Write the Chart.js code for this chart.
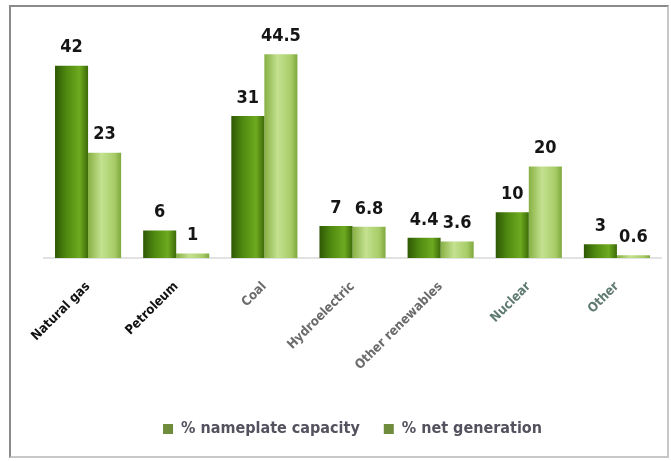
<!DOCTYPE html>
<html>
<head>
<meta charset="utf-8">
<script src="https://cdn.jsdelivr.net/npm/chart.js@4.4.1/dist/chart.umd.min.js"></script>
<style>
  html, body { margin: 0; padding: 0; background: #fff; }
  #wrap { position: relative; width: 671px; height: 461px; }
  #frame { position: absolute; left: 9px; top: 5px; width: 656px; height: 449px;
           border: 2px solid #8a8a8a; border-right-color: #c8c8c8; border-bottom-color: #c8c8c8; pointer-events: none; }
</style>
</head>
<body>
<div id="wrap">
  <canvas id="chart" width="671" height="461"></canvas>
  <div id="frame"></div>
</div>
<script>
// Share of US electricity by source
const categories = ["Natural gas", "Petroleum", "Coal", "Hydroelectric", "Other renewables", "Nuclear", "Other"];
const nameplateCapacity = [42, 6, 31, 7, 4.4, 10, 3];
const netGeneration = [23, 1, 44.5, 6.8, 3.6, 20, 0.6];
const seriesNames = ["% nameplate capacity", "% net generation"];

const tickColors = ["#111111", "#111111", "#6b6b6b", "#6b6b6b", "#6b6b6b", "#5f7a72", "#5f7a72"];
const FONT = "'Liberation Sans Narrow', 'DejaVu Sans Condensed', 'Liberation Sans', sans-serif";

const CAT_PCT = 0.75;

// Cylinder-like shading across each bar's width
const shades = [
  [[0, "#2f5805"], [0.35, "#4f8a10"], [0.75, "#6eaa20"], [1, "#3c6a08"]],
  [[0, "#86b042"], [0.4, "#c4e190"], [0.8, "#a8cd68"], [1, "#7fa83e"]]
];
function barFill(ctx) {
  const chart = ctx.chart;
  const xs = chart.scales.x;
  if (!xs || ctx.type !== "data") return shades[ctx.datasetIndex][1][1];
  const cat = (xs.right - xs.left) / categories.length;
  const bw = cat * CAT_PCT / 2;
  const center = xs.getPixelForValue(ctx.dataIndex);
  const x0 = center - cat * CAT_PCT / 2 + ctx.datasetIndex * bw;
  const g = chart.ctx.createLinearGradient(x0, 0, x0 + bw, 0);
  shades[ctx.datasetIndex].forEach(s => g.addColorStop(s[0], s[1]));
  return g;
}

// Value labels above each bar
const valueLabels = {
  id: "valueLabels",
  afterDatasetsDraw(chart) {
    const c = chart.ctx;
    c.save();
    c.font = "bold 18px " + FONT;
    c.fillStyle = "#151515";
    c.textAlign = "center";
    c.textBaseline = "bottom";
    chart.data.datasets.forEach((ds, i) => {
      chart.getDatasetMeta(i).data.forEach((bar, j) => {
        c.fillText(String(ds.data[j]), bar.x, bar.y - 9);
      });
    });
    c.restore();
  }
};

new Chart(document.getElementById("chart"), {
  type: "bar",
  data: {
    labels: categories,
    datasets: [
      { label: seriesNames[0], data: nameplateCapacity, backgroundColor: barFill },
      { label: seriesNames[1], data: netGeneration, backgroundColor: barFill }
    ]
  },
  options: {
    responsive: false,
    animation: false,
    layout: { padding: { left: 44, right: 10, top: 29, bottom: 14 } },
    datasets: { bar: { categoryPercentage: CAT_PCT, barPercentage: 1.0 } },
    scales: {
      y: { display: false, min: 0, max: 50 },
      x: {
        grid: { display: false },
        border: { display: true, color: "#e2e2e2", width: 2 },
        ticks: {
          minRotation: 45, maxRotation: 45, padding: 13,
          color: (c) => tickColors[c.index],
          font: { family: FONT, size: 13, weight: "bold" }
        },
        afterFit: (scale) => { scale.height = 139; }
      }
    },
    plugins: {
      tooltip: { enabled: false },
      legend: {
        position: "bottom",
        labels: {
          color: "#55525f",
          font: { family: FONT, size: 16, weight: "bold" },
          boxWidth: 10, boxHeight: 10, padding: 24,
          generateLabels: (chart) => chart.data.datasets.map((ds, i) => ({
            text: ds.label, fillStyle: "#6f8b3c", strokeStyle: "#6f8b3c",
            lineWidth: 0, datasetIndex: i, fontColor: "#55525f"
          }))
        }
      }
    }
  },
  plugins: [valueLabels]
});
</script>
</body>
</html>
